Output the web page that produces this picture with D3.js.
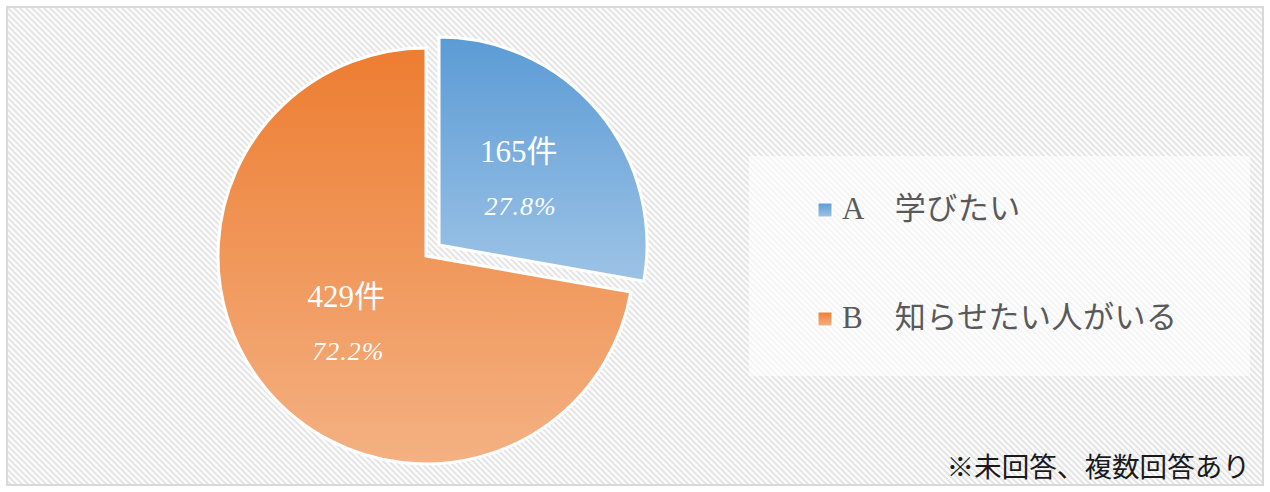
<!DOCTYPE html>
<html>
<head>
<meta charset="utf-8">
<script src="https://cdn.jsdelivr.net/npm/d3@7"></script>
<style>
  html, body { margin: 0; padding: 0; background: #fff; }
  svg { display: block; }
</style>
</head>
<body>
<svg id="chart" width="1270" height="492"></svg>
<script>
const categories = ['A　学びたい', 'B　知らせたい人がいる']
const counts = [165, 429]
const percents = ['27.8%', '72.2%']
const note = '※未回答、複数回答あり'

var W = 1270, H = 492
var cx = 426, cy = 256, radius = 208, explode = 17

var svg = d3.select('#chart')
var defs = svg.append('defs')

// diagonal pattern for the chart area
var pat = defs.append('pattern')
	.attr('id', 'stripes')
	.attr('patternUnits', 'userSpaceOnUse')
	.attr('width', 6).attr('height', 6)
pat.append('rect').attr('width', 6).attr('height', 6).attr('fill', '#fbfbfb')
pat.append('path')
	.attr('d', 'M-1,-1 L7,7 M-1,5 L1,7 M5,-1 L7,1')
	.attr('stroke', '#e3e3e3').attr('stroke-width', 1.7)

var gradColors = [['#5b9bd5', '#9dc3e6'], ['#ed7d31', '#f4b183']]
gradColors.forEach((c, i) => {
	var g = defs.append('linearGradient')
		.attr('id', 'grad' + i)
		.attr('x1', 0).attr('y1', 0).attr('x2', 0).attr('y2', 1)
	g.append('stop').attr('offset', '0%').attr('stop-color', c[0])
	g.append('stop').attr('offset', '100%').attr('stop-color', c[1])
})

svg.append('rect')
	.attr('x', 7).attr('y', 7).attr('width', W - 14).attr('height', H - 14)
	.attr('fill', 'url(#stripes)')
	.attr('stroke', '#d9d9d9').attr('stroke-width', 2)

var pie = d3.pie().sort(null).value(d => d)
var arcs = pie(counts)
var arc = d3.arc().innerRadius(0).outerRadius(radius)

var pieG = svg.append('g').attr('transform', `translate(${cx},${cy})`)

var slices = pieG.selectAll('g.slice')
	.data(arcs)
	.join('g')
	.attr('class', 'slice')
	.attr('transform', d => {
		if (d.index !== 0) return null
		var mid = (d.startAngle + d.endAngle) / 2
		return `translate(${Math.sin(mid) * explode},${-Math.cos(mid) * explode})`
	})

slices.append('path')
	.attr('d', arc)
	.attr('fill', (d, i) => `url(#grad${i})`)
	.attr('stroke', '#fff')
	.attr('stroke-width', 3)
	.attr('stroke-linejoin', 'miter')

var serif = "'Liberation Serif', 'DejaVu Serif', 'Noto Sans CJK JP', serif"

slices.each(function(d, i) {
	var c = arc.centroid(d)
	var g = d3.select(this)
	g.append('text')
		.attr('x', c[0]).attr('y', c[1] - 16)
		.attr('text-anchor', 'middle')
		.attr('fill', '#fff')
		.style('font-family', serif)
		.style('font-size', '31px')
		.text(counts[i] + '件')
	g.append('text')
		.attr('x', c[0] + 2).attr('y', c[1] + 37)
		.attr('text-anchor', 'middle')
		.attr('fill', '#fff')
		.style('font-family', serif)
		.style('font-style', 'italic')
		.style('font-size', '26px')
		.style('letter-spacing', '1px')
		.text(percents[i])
})

// legend
var legend = svg.append('g')
legend.append('rect')
	.attr('x', 749).attr('y', 156).attr('width', 501).attr('height', 220)
	.attr('fill', '#fff').attr('fill-opacity', 0.6)

var legendY = d3.scalePoint().domain(categories).range([219, 328])

categories.forEach((c, i) => {
	var y = legendY(c)
	legend.append('rect')
		.attr('x', 818).attr('y', y - 16).attr('width', 14).attr('height', 14)
		.attr('fill', `url(#grad${i})`)
		.attr('stroke', '#fff').attr('stroke-width', 1)
	legend.append('text')
		.attr('x', 842).attr('y', y)
		.attr('fill', '#595959')
		.style('font-family', serif)
		.style('font-size', '31px')
		.style('letter-spacing', '0.5px')
		.text(c)
})

svg.append('text')
	.attr('x', 1250).attr('y', 477)
	.attr('text-anchor', 'end')
	.attr('fill', '#1a1a1a')
	.style('font-family', serif)
	.style('font-size', '27.6px')
	.text(note)
</script>
</body>
</html>
